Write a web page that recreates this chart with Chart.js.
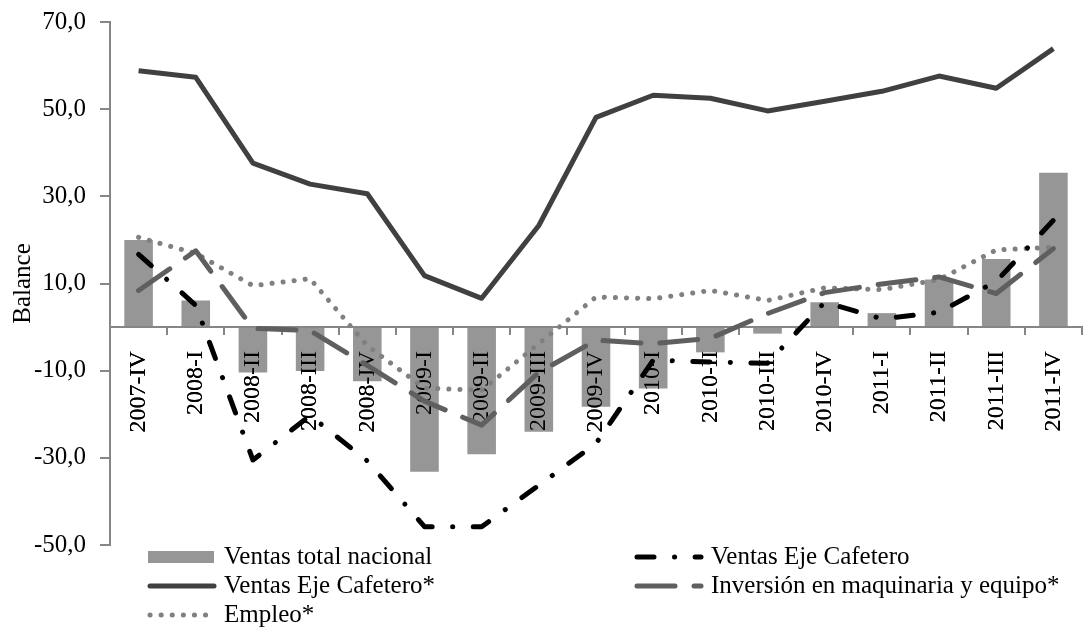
<!DOCTYPE html>
<html>
<head>
<meta charset="utf-8">
<script src="https://cdn.jsdelivr.net/npm/chart.js@4.4.1/dist/chart.umd.min.js"></script>
<style>
  html, body { margin: 0; padding: 0; background: #fff; }
  #wrap { width: 1083px; height: 637px; }
</style>
</head>
<body>
<div id="wrap"><canvas id="chart" width="1083" height="637"></canvas></div>
<script>
const categories = ['2007-IV', '2008-I', '2008-II', '2008-III', '2008-IV', '2009-I', '2009-II', '2009-III',
  '2009-IV', '2010-I', '2010-II', '2010-III', '2010-IV', '2011-I', '2011-II', '2011-III', '2011-IV'];

// balances
const ventasTotalNacional = [20.0, 6.1, -10.4, -10.1, -12.4, -33.2, -29.2, -24.0, -18.3, -14.1, -5.8, -1.5, 5.7, 3.2, 10.9, 15.6, 35.4];
const ventasEjeCafetero = [16.7, 5.0, -30.5, -20.3, -30.7, -45.8, -45.8, -36.3, -26.7, -7.6, -8.0, -8.3, 5.7, 1.9, 3.4, 10.5, 24.5];
const ventasEjeCafeteroDes = [58.8, 57.3, 37.6, 32.8, 30.6, 11.8, 6.6, 23.3, 48.1, 53.2, 52.5, 49.6, 51.8, 54.1, 57.6, 54.8, 63.9];
const inversionMaquinaria = [8.4, 17.5, -0.3, -0.8, -8.8, -17.0, -22.5, -10.4, -3.0, -3.8, -2.6, 3.1, 7.9, 9.9, 11.5, 7.7, 18.0];
const empleo = [20.6, 16.9, 9.5, 11.1, -4.3, -14.0, -14.5, -3.8, 6.9, 6.5, 8.4, 6.1, 9.0, 8.6, 10.9, 17.7, 18.3];

const yTicksMin = -50, yTicksMax = 70, yStep = 20;

const fmt = v => Number(v).toFixed(1).replace('.', ',');
const axisGray = '#868686';

Chart.defaults.font.family = '"Liberation Serif", "Times New Roman", serif';
Chart.defaults.color = '#000';

// category labels and axis line go over the bars but under the lines
const labelsOverBars = {
  id: 'labelsOverBars',
  afterDatasetDraw(chart, args) {
    if (args.index !== 0) return;
    const x = chart.scales.x;
    x.drawBorder();
    x.drawLabels(chart.chartArea);
  }
};

// legend in two columns, like the spreadsheet one
const excelLegend = {
  id: 'excelLegend',
  afterDraw(chart) {
    const ctx = chart.ctx;
    const ds = chart.data.datasets;
    const slots = [[0, 148, 557], [1, 635, 557], [2, 148, 586], [3, 635, 586], [4, 148, 615]];
    ctx.save();
    ctx.font = '25px "Liberation Serif"';
    ctx.textBaseline = 'middle';
    slots.forEach(([i, x, y]) => {
      const d = ds[i];
      if (d.type === 'bar') {
        ctx.fillStyle = d.backgroundColor;
        ctx.fillRect(x, y - 6, 66, 12);
      } else {
        ctx.beginPath();
        ctx.strokeStyle = d.borderColor;
        ctx.lineWidth = d.borderWidth;
        ctx.lineCap = 'round';
        ctx.setLineDash(d.borderDash || []);
        ctx.moveTo(x + 2, y);
        ctx.lineTo(x + 66, y);
        ctx.stroke();
        ctx.setLineDash([]);
      }
      ctx.fillStyle = '#000';
      ctx.fillText(d.label, x + 76, y);
    });
    ctx.restore();
  }
};

new Chart(document.getElementById('chart'), {
  type: 'bar',
  data: {
    labels: categories,
    datasets: [
      {
        type: 'bar',
        label: 'Ventas total nacional',
        data: ventasTotalNacional,
        backgroundColor: '#969696',
        borderWidth: 0,
        barPercentage: 0.5,
        categoryPercentage: 1,
        order: 5
      },
      {
        type: 'line',
        label: 'Ventas Eje Cafetero',
        data: ventasEjeCafetero,
        borderColor: '#000000',
        borderWidth: 5,
        borderDash: [17, 20.5, 0.1, 20.5],
        borderCapStyle: 'round',
        borderJoinStyle: 'round',
        pointRadius: 0,
        fill: false,
        tension: 0,
        order: 1
      },
      {
        type: 'line',
        label: 'Ventas Eje Cafetero*',
        data: ventasEjeCafeteroDes,
        borderColor: '#404040',
        borderWidth: 5,
        borderJoinStyle: 'round',
        pointRadius: 0,
        fill: false,
        tension: 0,
        order: 2
      },
      {
        type: 'line',
        label: 'Inversión en maquinaria y equipo*',
        data: inversionMaquinaria,
        borderColor: '#5f5f5f',
        borderWidth: 5,
        borderDash: [38, 19],
        borderCapStyle: 'round',
        borderJoinStyle: 'round',
        pointRadius: 0,
        fill: false,
        tension: 0,
        order: 3
      },
      {
        type: 'line',
        label: 'Empleo*',
        data: empleo,
        borderColor: '#808080',
        borderWidth: 5,
        borderDash: [0.1, 11],
        borderCapStyle: 'round',
        pointRadius: 0,
        fill: false,
        tension: 0,
        order: 4
      }
    ]
  },
  options: {
    responsive: false,
    animation: false,
    layout: { padding: { top: 22, right: 1, bottom: 92, left: 0 } },
    plugins: {
      legend: { display: false },
      tooltip: { enabled: false }
    },
    scales: {
      x: {
        position: { y: 0 },
        offset: true,
        afterFit: scale => { scale.paddingLeft = 0; scale.paddingRight = 0; },
        grid: { drawOnChartArea: false, offset: true, tickLength: 7, color: axisGray, lineWidth: 2 },
        border: { color: axisGray, width: 2 },
        ticks: {
          autoSkip: false,
          minRotation: 90,
          maxRotation: 90,
          padding: 17,
          color: '#000',
          font: { size: 24 }
        }
      },
      y: {
        min: yTicksMin,
        max: yTicksMax,
        afterFit: scale => { scale.width = 110; scale.paddingTop = 0; scale.paddingBottom = 0; },
        grid: { drawOnChartArea: false, tickLength: 10, color: axisGray, lineWidth: 2 },
        border: { color: axisGray, width: 2 },
        ticks: {
          stepSize: yStep,
          padding: 14,
          color: '#000',
          font: { size: 25 },
          callback: v => fmt(v)
        },
        title: {
          display: true,
          text: 'Balance',
          color: '#000',
          padding: { top: 8, bottom: 0 },
          font: { size: 25 }
        }
      }
    }
  },
  plugins: [labelsOverBars, excelLegend]
});
</script>
</body>
</html>
